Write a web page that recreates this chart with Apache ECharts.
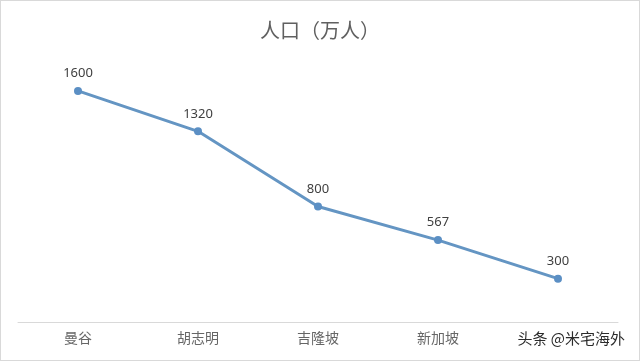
<!DOCTYPE html>
<html><head><meta charset="utf-8">
<script src="https://cdn.jsdelivr.net/npm/echarts@6/dist/echarts.min.js"></script>
<style>html,body{margin:0;padding:0;background:#fff}#c{width:640px;height:361px;box-sizing:border-box;border:1px solid #d9d9d9}</style>
</head><body><div id="c"></div>
<script>
const categories = ['曼谷', '胡志明', '吉隆坡', '新加坡', '金边'];
const population = [1600, 1320, 800, 567, 300];
const titleText = '人口（万人）';
const watermark = '头条 @米宅海外';

const chart = echarts.init(document.getElementById('c'), null, {renderer: 'canvas'});
chart.setOption({
  animation: false,
  backgroundColor: '#fff',
  title: {
    text: titleText, left: 'center', top: 14,
    textStyle: {fontSize: 20, fontWeight: 'normal', color: '#606060', fontFamily: 'Noto Sans CJK SC'}
  },
  grid: {left: 17, right: 21, top: 61, bottom: 38},
  xAxis: {
    type: 'category', data: categories, boundaryGap: true,
    axisLine: {lineStyle: {color: '#d9d9d9', width: 1}},
    axisTick: {show: false},
    axisLabel: {color: '#666666', fontSize: 14, margin: 9, fontFamily: 'Noto Sans CJK SC'}
  },
  yAxis: {type: 'value', min: 0, max: 1800, show: false, splitLine: {show: false}},
  series: [{
    type: 'line', data: population,
    symbol: 'circle', symbolSize: 8,
    lineStyle: {color: '#6495c3', width: 3},
    itemStyle: {color: '#5b8fc4'},
    label: {show: true, position: 'top', distance: 7, color: '#404040', fontSize: 13, fontFamily: 'Noto Sans'}
  }],
  graphic: [{
    type: 'text', right: 12, top: 328, z: 100,
    style: {text: watermark, fill: '#2b2b2b', font: '15px "Noto Sans CJK SC"', backgroundColor: '#fff', padding: [2, 2]}
  }]
});
</script></body></html>
